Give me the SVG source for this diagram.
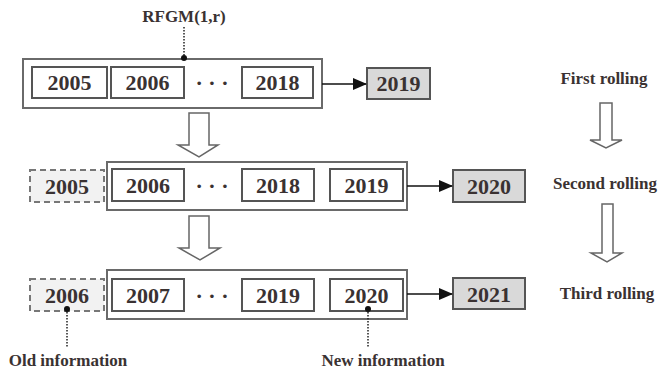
<svg xmlns="http://www.w3.org/2000/svg" width="659" height="376" viewBox="0 0 659 376">
<defs>
<style>
.outer{fill:#fff;stroke:#6a6a6a;stroke-width:2}
.box{fill:#fff;stroke:#555;stroke-width:2}
.old{fill:#f2f2f2;stroke:#777;stroke-width:2;stroke-dasharray:6 4}
.res{fill:#d9d9d9;stroke:#555;stroke-width:2}
.yr{font-family:"Liberation Serif",serif;font-weight:bold;font-size:22px;fill:#3a3232;text-anchor:middle}
.lbl{font-family:"Liberation Serif",serif;font-weight:bold;font-size:17px;fill:#3a3232;text-anchor:middle}
.dots{font-family:"Liberation Serif",serif;font-weight:bold;font-size:22px;fill:#3a3232;text-anchor:middle}
.blk{fill:#fff;stroke:#666;stroke-width:1.5}
.ln{stroke:#111;stroke-width:1.5;fill:none}
.dot{stroke:#222;stroke-width:1.5;stroke-dasharray:1.5 1.5;fill:none}
</style>
<marker id="ah" markerWidth="14" markerHeight="12" refX="13" refY="6" orient="auto" markerUnits="userSpaceOnUse">
<path d="M0,0 L14,6 L0,12 Z" fill="#111"/>
</marker>
</defs>

<g id="row1">
<rect class="outer" x="23" y="59" width="299" height="49"/>
<g id="r1-2005"><rect class="box" x="32" y="67" width="75" height="31"/><text class="yr" x="69.5" y="90">2005</text></g>
<g id="r1-2006"><rect class="box" x="111" y="67" width="73" height="31"/><text class="yr" x="147.5" y="90">2006</text></g>
<text class="dots" x="212" y="90">· · ·</text>
<g id="r1-2018"><rect class="box" x="242" y="67" width="71" height="31"/><text class="yr" x="277.5" y="90">2018</text></g>
</g>
<g id="r1-2019"><rect class="res" x="367" y="68" width="63" height="31"/><text class="yr" x="398.5" y="91">2019</text></g>

<g id="row2">
<rect class="outer" x="107" y="162" width="300" height="48"/>
<g id="r2-2006"><rect class="box" x="112" y="169" width="72" height="32"/><text class="yr" x="148" y="193">2006</text></g>
<text class="dots" x="212" y="193">· · ·</text>
<g id="r2-2018"><rect class="box" x="242" y="169" width="72" height="32"/><text class="yr" x="278" y="193">2018</text></g>
<g id="r2-2019"><rect class="box" x="330" y="169" width="73" height="32"/><text class="yr" x="366.5" y="193">2019</text></g>
</g>
<g id="r2-2005"><rect class="old" x="30" y="170" width="74" height="32"/><text class="yr" x="67" y="194">2005</text></g>
<g id="r2-2020"><rect class="res" x="453" y="170" width="72" height="32"/><text class="yr" x="489" y="194">2020</text></g>

<g id="row3">
<rect class="outer" x="107" y="270" width="300" height="49"/>
<g id="r3-2007"><rect class="box" x="112" y="279" width="72" height="32"/><text class="yr" x="148" y="303">2007</text></g>
<text class="dots" x="212" y="303">· · ·</text>
<g id="r3-2019"><rect class="box" x="242" y="279" width="72" height="32"/><text class="yr" x="278" y="303">2019</text></g>
<g id="r3-2020"><rect class="box" x="330" y="279" width="73" height="32"/><text class="yr" x="366.5" y="303">2020</text></g>
</g>
<g id="r3-2006"><rect class="old" x="30" y="279" width="74" height="32"/><text class="yr" x="67" y="303">2006</text></g>
<g id="r3-2021"><rect class="res" x="453" y="278" width="72" height="31"/><text class="yr" x="489" y="302">2021</text></g>

<g id="labels">
<text class="lbl" x="184" y="22">RFGM(1,r)</text>
<text class="lbl" x="68" y="366">Old information</text>
<text class="lbl" x="383" y="366">New information</text>
<text class="lbl" x="604" y="84">First rolling</text>
<text class="lbl" x="605" y="189">Second rolling</text>
<text class="lbl" x="607" y="299">Third rolling</text>
</g>

<g id="connectors">
<line class="ln" x1="322" y1="84" x2="366" y2="84" marker-end="url(#ah)"/>
<line class="ln" x1="407" y1="186" x2="452" y2="186" marker-end="url(#ah)"/>
<line class="ln" x1="407" y1="294" x2="452" y2="294" marker-end="url(#ah)"/>
<line class="dot" x1="184" y1="27" x2="184" y2="58"/>
<circle cx="184" cy="58" r="3" fill="#111"/>
<line class="dot" x1="67" y1="309" x2="67" y2="348"/>
<circle cx="67" cy="309" r="3" fill="#111"/>
<line class="dot" x1="368" y1="309" x2="368" y2="348"/>
<circle cx="368" cy="309" r="3" fill="#111"/>
<path class="blk" d="M189,113 H209 V145 H218 L199,157 L178,145 H189 Z"/>
<path class="blk" d="M189,216 H209 V248 H220 L200,260 L179,248 H189 Z"/>
<path class="blk" d="M600,103 H612 V140 H622 L606,148 L590,140 H600 Z"/>
<path class="blk" d="M602,204 H613 V253 H622 L607,262 L591,253 H602 Z"/>
</g>
</svg>
